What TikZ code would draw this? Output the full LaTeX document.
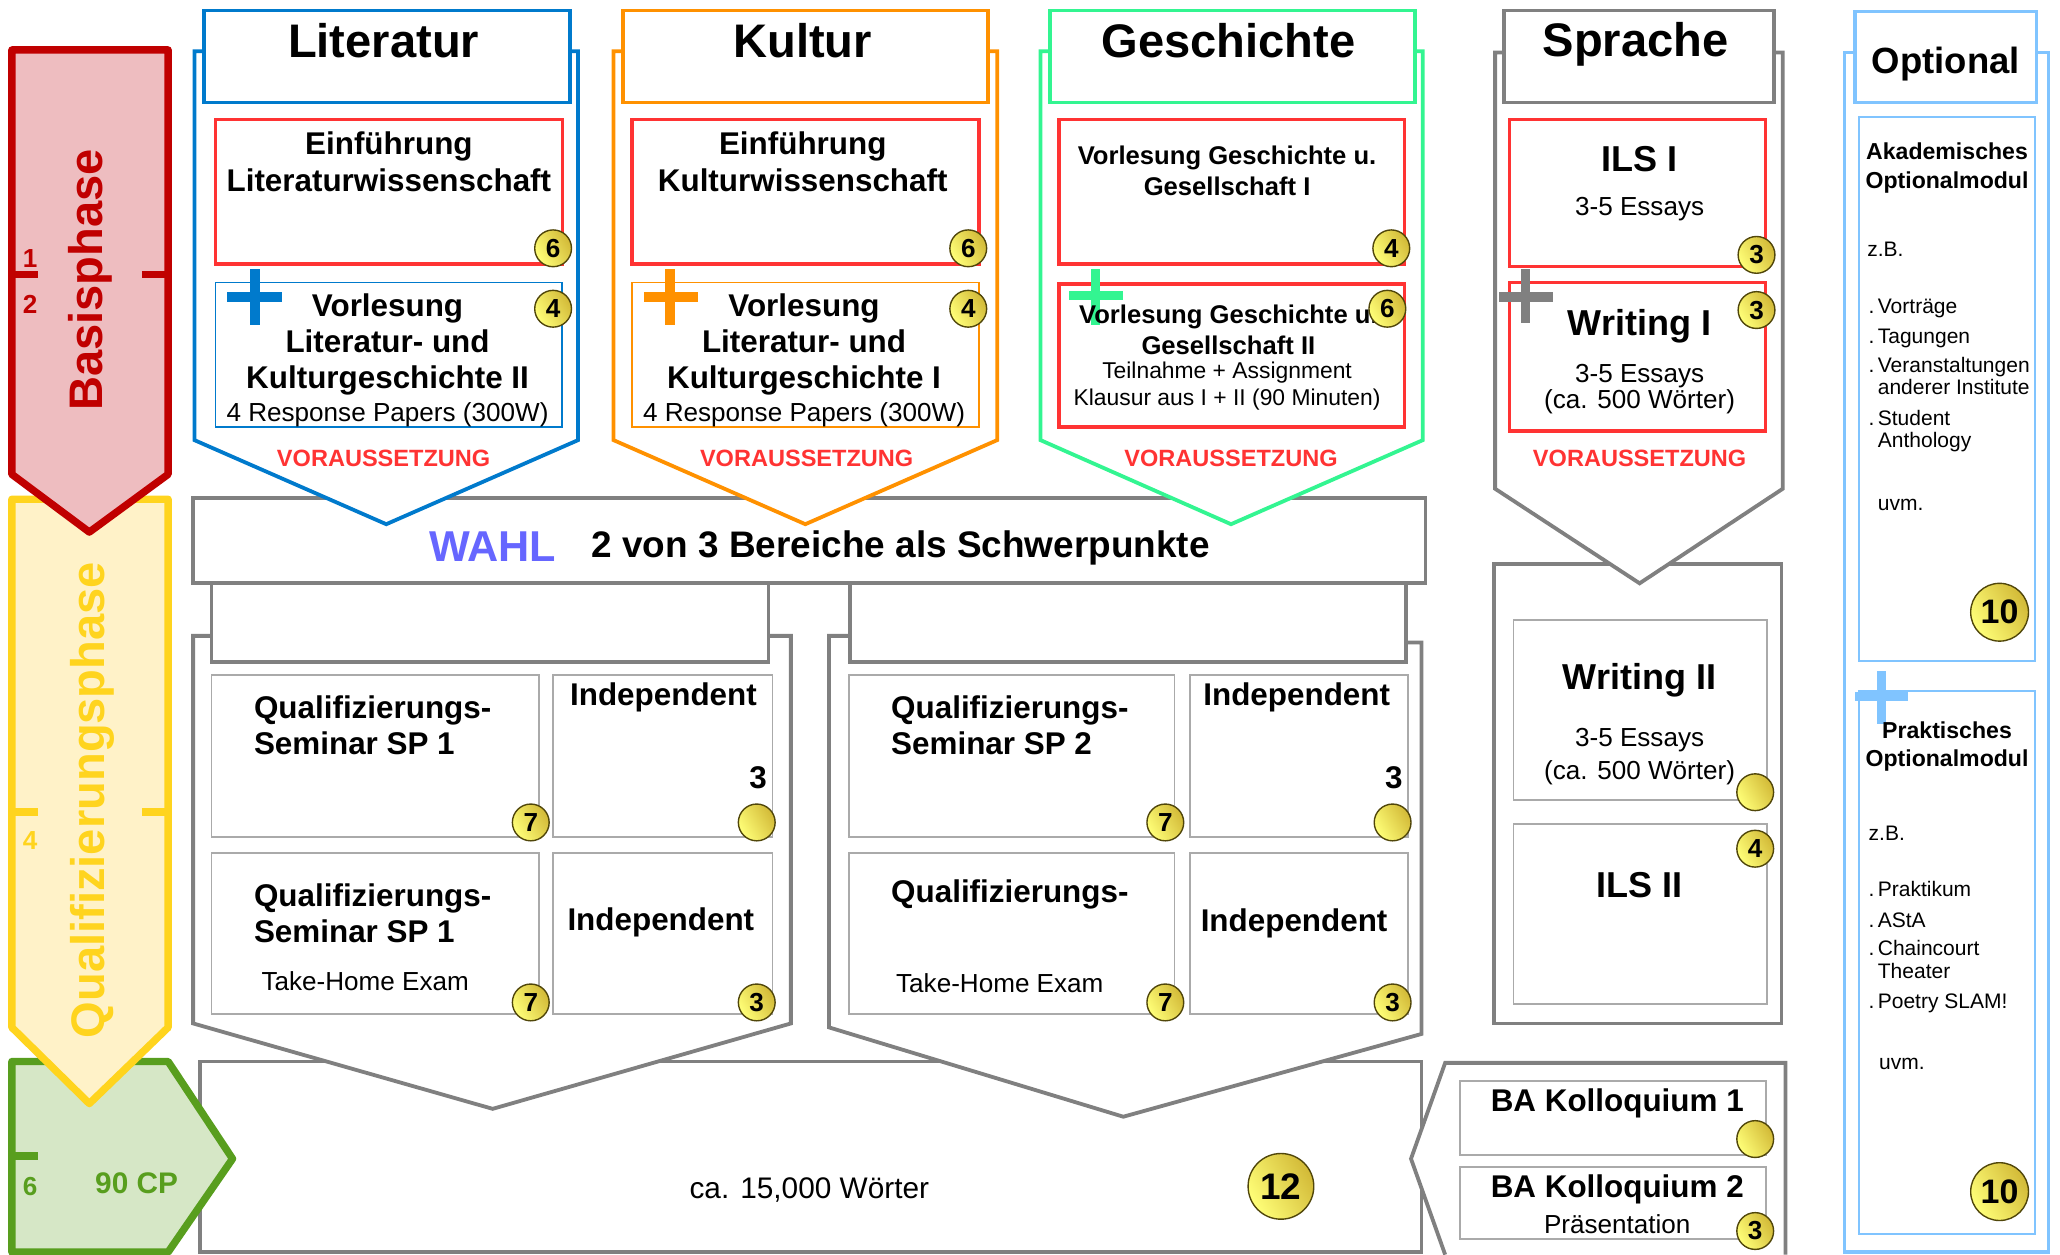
\documentclass[tikz,border=0pt]{standalone}
\usepackage{fontspec}
\setmainfont{Liberation Sans}
\usetikzlibrary{fit,positioning}

\definecolor{litblue}{RGB}{0,122,204}
\definecolor{kulorange}{RGB}{255,145,0}
\definecolor{gesgreen}{RGB}{51,245,145}
\definecolor{sprgray}{RGB}{128,128,128}
\definecolor{optblue}{RGB}{128,196,255}
\definecolor{boxred}{RGB}{255,51,51}
\definecolor{thingray}{RGB}{170,170,170}
\definecolor{basred}{RGB}{192,0,0}
\definecolor{basfill}{RGB}{238,189,192}
\definecolor{qualline}{RGB}{255,212,30}
\definecolor{qualfill}{RGB}{255,242,200}
\definecolor{cpline}{RGB}{88,158,30}
\definecolor{cpfill}{RGB}{214,231,198}
\definecolor{wahlblue}{RGB}{102,102,255}
\definecolor{coinA}{RGB}{255,255,120}
\definecolor{coinB}{RGB}{210,185,55}
\definecolor{coinline}{RGB}{80,70,10}

\begin{document}
\begin{tikzpicture}[
    x=0.2mm, y=-0.2mm,
    colhead/.style={rectangle,draw,line width=1.65pt,fill=white,inner sep=0pt},
    graybox/.style={rectangle,draw=sprgray,line width=1.65pt,fill=white,inner sep=0pt},
    redbox/.style={rectangle,draw=boxred,line width=1.5pt,fill=white,inner sep=0pt},
    thinbox/.style={rectangle,draw=thingray,line width=0.8pt,fill=white,inner sep=0pt},
    wall/.style={line width=1.65pt,fill=white},
    phasebox/.style={line width=3.2pt,line join=round},
    plusbar/.style={line width=4.1pt},
    ttl/.style={inner sep=0pt,font=\bfseries\fontsize{20.4}{24}\selectfont},
    bt/.style={inner sep=0pt,align=center,font=\bfseries\fontsize{13.6}{15.8}\selectfont},
    bbt/.style={inner sep=0pt,align=center,font=\bfseries\fontsize{15.6}{18}\selectfont},
    gbt/.style={inner sep=0pt,align=center,font=\bfseries\fontsize{11.1}{13.6}\selectfont},
    obt/.style={inner sep=0pt,align=center,font=\bfseries\fontsize{10}{12.3}\selectfont},
    rt/.style={inner sep=0pt,align=center,font=\fontsize{11.3}{14}\selectfont},
    grt/.style={inner sep=0pt,align=center,font=\fontsize{9.9}{11.6}\selectfont},
    ort/.style={inner sep=0pt,align=left,font=\fontsize{9.1}{9.9}\selectfont},
    vor/.style={inner sep=0pt,text=boxred,font=\bfseries\fontsize{10.2}{12}\selectfont},
    coin/.style={circle,draw=coinline,line width=0.6pt,inner sep=0pt,minimum size=5.6mm,
      left color=coinA,right color=coinB,shading angle=120,
      font=\bfseries\fontsize{11.3}{12}\selectfont},
    bigcoin/.style={coin,minimum size=8.8mm,font=\bfseries\fontsize{14.7}{16}\selectfont}
  ]
  \useasboundingbox (0,0) rectangle (1568,955);

  % Thesis
  \node[graybox,fit={(152,808) (1082,953)}] (thesis) {};
  \node[rt,font=\fontsize{12.9}{14}\selectfont] (thesisT) at (616,906) {ca. 15,000 Wörter};
  \node[coin,minimum size=10mm,font=\bfseries\fontsize{16}{18}\selectfont] (thesisC) at (975,903) {12};

  % Phases on the left
  \draw[phasebox,draw=cpline,fill=cpfill] (9,808) -- (128,808) -- (177,882) -- (128,953) -- (9,953) -- cycle;
  \draw[phasebox,draw=qualline,fill=qualfill] (9,380) -- (128,380) -- (128,782) -- (68,840) -- (9,782) -- cycle;
  \draw[phasebox,draw=basred,fill=basfill] (9,38) -- (128,38) -- (128,361) -- (68,405) -- (9,361) -- cycle;
  \draw[basred,line width=3.2pt] (9,209) -- (29,209) (108,209) -- (128,209);
  \draw[qualline,line width=3.2pt] (9,618) -- (29,618) (108,618) -- (128,618);
  \draw[cpline,line width=3.2pt] (9,880) -- (29,880);
  \node[inner sep=0pt,text=basred,font=\bfseries\fontsize{11.3}{12}\selectfont] (semOne) at (23,197) {1};
  \node[inner sep=0pt,text=basred,font=\bfseries\fontsize{11.3}{12}\selectfont] (semTwo) at (23,232) {2};
  \node[inner sep=0pt,text=qualline,font=\bfseries\fontsize{11.3}{12}\selectfont] (semFour) at (23,640) {4};
  \node[inner sep=0pt,text=cpline,font=\bfseries\fontsize{11.3}{12}\selectfont] (semSix) at (23,903) {6};
  \node[inner sep=0pt,text=cpline,font=\bfseries\fontsize{12.9}{14}\selectfont] (cpT) at (104,901) {90 CP};
  \node[ttl,rotate=90,text=basred] (basT) at (69,213) {Basisphase};
  \node[ttl,rotate=90,text=qualline] (qualT) at (70,609) {Qualifizierungsphase};

  % Colloquium
  \draw[wall,draw=sprgray] (1100,955) -- (1074,882) -- (1100,809) -- (1359,809) -- (1359,955);
  \node[thinbox,fit={(1111,823) (1344,879)}] (baOne) {};
  \node[bt] (baOneT) at (1231,840) {BA Kolloquium 1};
  \node[coin] (baOneC) at (1336,867) {};
  \node[thinbox,fit={(1111,888) (1344,943)}] (baTwo) {};
  \node[bt] (baTwoT) at (1231,905) {BA Kolloquium 2};
  \node[rt] (baTwoS) at (1231,932) {Präsentation};
  \node[coin] (baTwoC) at (1336,937) {3};

  % Choice bar
  \node[graybox,fit={(147,379) (1085,444)}] (wahl) {};
  \node[inner sep=0pt,text=wahlblue,font=\bfseries\fontsize{18.7}{20}\selectfont] (wahlT) at (375,416) {WAHL};
  \node[inner sep=0pt,anchor=west,font=\bfseries\fontsize{16}{18}\selectfont] (wahlS) at (450,417) {2 von 3 Bereiche als Schwerpunkte};

  % Schwerpunkt 1
  \draw[wall,draw=sprgray] (161,484) -- (147,484) -- (147,779) -- (375,844) -- (602,779) -- (602,484) -- (585,484);
  \node[graybox,fit={(161,444) (585,504)}] (spOneHead) {};
  \node[thinbox,fit={(161,514) (410,637)}] (spOneSem) {};
  \node[bt,anchor=west,align=left] (spOneSemT) at (193,552) {Qualifizierungs-\\Seminar SP 1};
  \node[coin] (spOneSemC) at (404,626) {7};
  \node[thinbox,fit={(421,514) (588,637)}] (spOneInd) {};
  \node[bt] (spOneIndT) at (505,531) {Independent};
  \node[bt] (spOneIndN) at (577,592) {3};
  \node[coin] (spOneIndC) at (576,626) {};
  \node[thinbox,fit={(161,649) (410,772)}] (spOneExam) {};
  \node[bt,anchor=west,align=left] (spOneExamT) at (193,695) {Qualifizierungs-\\Seminar SP 1};
  \node[rt] (spOneExamS) at (278,747) {Take-Home Exam};
  \node[coin] (spOneExamC) at (404,763) {7};
  \node[thinbox,fit={(421,649) (588,772)}] (spOneIndB) {};
  \node[bt] (spOneIndBT) at (503,702) {Independent};
  \node[coin] (spOneIndBC) at (576,763) {3};

  % Schwerpunkt 2
  \draw[wall,draw=sprgray] (647,484) -- (631,484) -- (631,782) -- (855,850) -- (1082,787) -- (1082,489) -- (1070,489);
  \node[graybox,fit={(647,444) (1070,504)}] (spTwoHead) {};
  \node[thinbox,fit={(646,514) (894,637)}] (spTwoSem) {};
  \node[bt,anchor=west,align=left] (spTwoSemT) at (678,552) {Qualifizierungs-\\Seminar SP 2};
  \node[coin] (spTwoSemC) at (887,626) {7};
  \node[thinbox,fit={(906,514) (1072,637)}] (spTwoInd) {};
  \node[bt] (spTwoIndT) at (987,531) {Independent};
  \node[bt] (spTwoIndN) at (1061,592) {3};
  \node[coin] (spTwoIndC) at (1060,626) {};
  \node[thinbox,fit={(646,649) (894,772)}] (spTwoExam) {};
  \node[bt,anchor=west,align=left] (spTwoExamT) at (678,681) {Qualifizierungs-};
  \node[rt] (spTwoExamS) at (761,748) {Take-Home Exam};
  \node[coin] (spTwoExamC) at (887,763) {7};
  \node[thinbox,fit={(906,649) (1072,772)}] (spTwoIndB) {};
  \node[bt] (spTwoIndBT) at (985,703) {Independent};
  \node[coin] (spTwoIndBC) at (1060,763) {3};

  % Sprache, second year
  \node[graybox,fit={(1137,429) (1356,779)}] (sprLow) {};
  \node[thinbox,fit={(1152,472) (1345,609)}] (writeTwo) {};
  \node[bbt] (writeTwoT) at (1248,518) {Writing II};
  \node[rt,font=\fontsize{11.3}{14.2}\selectfont] (writeTwoS) at (1248,576) {3-5 Essays\\(ca. 500 Wörter)};
  \node[coin] (writeTwoC) at (1336,603) {};
  \node[thinbox,fit={(1152,627) (1345,764)}] (ilsTwo) {};
  \node[bbt] (ilsTwoT) at (1248,674) {ILS II};
  \node[coin] (ilsTwoC) at (1336,646) {4};

  % Literatur
  \draw[wall,draw=litblue] (155,39) -- (148,39) -- (148,335) -- (294,399) -- (440,335) -- (440,39) -- (434,39);
  \node[colhead,draw=litblue,fit={(155,8) (434,78)}] (litHead) {};
  \node[ttl] (litT) at (292,31) {Literatur};
  \node[redbox,fit={(164,91) (428,201)}] (litEinf) {};
  \node[bt] (litEinfT) at (296,123) {Einführung\\Literaturwissenschaft};
  \node[coin] (litEinfC) at (421,189) {6};
  \node[thinbox,draw=litblue,fit={(164,215) (428,325)}] (litVorl) {};
  \draw[plusbar,litblue] (173,226) -- (215,226) (194,205) -- (194,247);
  \node[bt,font=\bfseries\fontsize{13.6}{15.5}\selectfont] (litVorlT) at (295,262) {Vorlesung\\Literatur- und\\Kulturgeschichte II};
  \node[rt] (litVorlS) at (295,316) {4 Response Papers (300W)};
  \node[coin] (litVorlC) at (421,235) {4};
  \node[vor] (litVor) at (292,349) {VORAUSSETZUNG};

  % Kultur
  \draw[wall,draw=kulorange] (474,39) -- (467,39) -- (467,335) -- (613,399) -- (759,335) -- (759,39) -- (752,39);
  \node[colhead,draw=kulorange,fit={(474,8) (752,78)}] (kulHead) {};
  \node[ttl] (kulT) at (611,31) {Kultur};
  \node[redbox,fit={(481,91) (745,201)}] (kulEinf) {};
  \node[bt] (kulEinfT) at (611,123) {Einführung\\Kulturwissenschaft};
  \node[coin] (kulEinfC) at (737,189) {6};
  \node[thinbox,draw=kulorange,fit={(481,215) (745,325)}] (kulVorl) {};
  \draw[plusbar,kulorange] (490,226) -- (531,226) (510,205) -- (510,247);
  \node[bt,font=\bfseries\fontsize{13.6}{15.5}\selectfont] (kulVorlT) at (612,262) {Vorlesung\\Literatur- und\\Kulturgeschichte I};
  \node[rt] (kulVorlS) at (612,316) {4 Response Papers (300W)};
  \node[coin] (kulVorlC) at (737,235) {4};
  \node[vor] (kulVor) at (614,349) {VORAUSSETZUNG};

  % Geschichte
  \draw[wall,draw=gesgreen] (799,39) -- (792,39) -- (792,335) -- (937,399) -- (1083,335) -- (1083,39) -- (1077,39);
  \node[colhead,draw=gesgreen,fit={(799,8) (1077,78)}] (gesHead) {};
  \node[ttl] (gesT) at (935,31) {Geschichte};
  \node[redbox,fit={(806,91) (1069,201)}] (gesOne) {};
  \node[gbt] (gesOneT) at (934,130) {Vorlesung Geschichte u.\\Gesellschaft I};
  \node[coin] (gesOneC) at (1059,189) {4};
  \node[redbox,fit={(806,216) (1069,325)}] (gesTwo) {};
  \draw[plusbar,gesgreen] (814,225) -- (855,225) (834,205) -- (834,247);
  \node[gbt] (gesTwoT) at (935,251) {Vorlesung Geschichte u.\\Gesellschaft II};
  \node[grt] (gesTwoS) at (934,294) {Teilnahme + Assignment\\Klausur aus I + II (90 Minuten)};
  \node[coin] (gesTwoC) at (1056,235) {6};
  \node[vor] (gesVor) at (937,349) {VORAUSSETZUNG};

  % Sprache
  \draw[wall,draw=sprgray] (1145,40) -- (1138,40) -- (1138,372) -- (1248,444) -- (1357,372) -- (1357,40) -- (1350,40);
  \node[colhead,draw=sprgray,fit={(1145,8) (1350,78)}] (sprHead) {};
  \node[ttl] (sprT) at (1245,34) {Sprache};
  \node[redbox,fit={(1149,91) (1344,203)}] (ilsOne) {};
  \node[bbt] (ilsOneT) at (1248,121) {ILS I};
  \node[rt] (ilsOneS) at (1248,159) {3-5 Essays};
  \node[coin] (ilsOneC) at (1337,194) {3};
  \node[redbox,fit={(1149,215) (1344,328)}] (writeOne) {};
  \draw[plusbar,sprgray] (1141,226) -- (1182,226) (1161,205) -- (1161,246);
  \node[bbt] (writeOneT) at (1248,248) {Writing I};
  \node[rt,font=\fontsize{11.3}{11.4}\selectfont] (writeOneS) at (1248,296) {3-5 Essays\\(ca. 500 Wörter)};
  \node[coin] (writeOneC) at (1337,236) {3};
  \node[vor] (sprVor) at (1248,349) {VORAUSSETZUNG};

  % Optional
  \draw[line width=1.4pt,draw=optblue] (1412,40) -- (1404,40) -- (1404,953) -- (1559,953) -- (1559,40) -- (1550,40);
  \node[colhead,draw=optblue,line width=1.4pt,fit={(1412,9) (1550,78)}] (optHead) {};
  \node[inner sep=0pt,font=\bfseries\fontsize{15.8}{18}\selectfont] (optT) at (1481,49) {Optional};
  \node[thinbox,draw=optblue,fit={(1415,89) (1549,503)}] (optAka) {};
  \node[obt] (optAkaT) at (1482,128) {Akademisches\\Optionalmodul};
  \node[ort,anchor=west] (optAkaZ) at (1421,190) {z.B.};
  \node[ort,anchor=west] (optAkaL) at (1429,286) {\llap{.\hspace{1.5pt}}Vorträge\\[3.2pt]
    \llap{.\hspace{1.5pt}}Tagungen\\[2.3pt]
    \llap{.\hspace{1.5pt}}Veranstaltungen\\ anderer Institute\\[3.2pt]
    \llap{.\hspace{1.5pt}}Student\\ Anthology};
  \node[ort,anchor=west] (optAkaU) at (1429,384) {uvm.};
  \node[bigcoin] (optAkaC) at (1522,466) {10};
  \node[thinbox,draw=optblue,fit={(1415,526) (1549,939)}] (optPra) {};
  \draw[plusbar,optblue] (1412,530) -- (1452,530) (1432,511) -- (1432,551);
  \node[obt] (optPraT) at (1482,568) {Praktisches\\Optionalmodul};
  \node[ort,anchor=west] (optPraZ) at (1422,634) {z.B.};
  \node[ort,anchor=west] (optPraL) at (1429,721) {\llap{.\hspace{1.5pt}}Praktikum\\[3.6pt]
    \llap{.\hspace{1.5pt}}AStA\\[2.3pt]
    \llap{.\hspace{1.5pt}}Chaincourt\\ Theater\\[3.2pt]
    \llap{.\hspace{1.5pt}}Poetry SLAM!};
  \node[ort,anchor=west] (optPraU) at (1430,810) {uvm.};
  \node[bigcoin] (optPraC) at (1522,907) {10};
\end{tikzpicture}
\end{document}
